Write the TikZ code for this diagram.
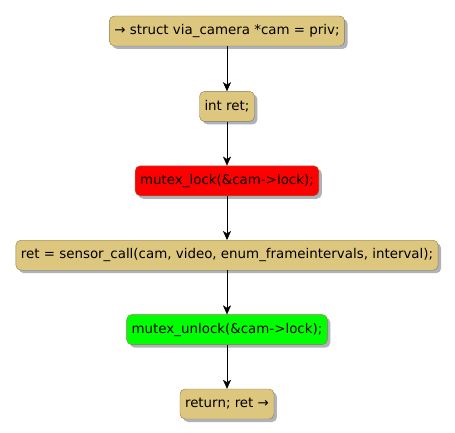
\documentclass[tikz,border=0pt]{standalone}
\usepackage{fontspec}
\setmainfont{DejaVu Sans}
\usepackage{tikz}
\usetikzlibrary{arrows.meta,positioning,shadows}
\definecolor{Gold}{HTML}{DDC67D}
\definecolor{Rim}{HTML}{8A7A48}
\definecolor{Shade}{HTML}{9AA0AA}
\tikzset{
 act/.style={draw=Rim,fill=Gold,rounded corners=5pt,font=\fontsize{13.4}{15}\selectfont,
   minimum height=30pt,inner xsep=5pt,inner ysep=3pt,
   drop shadow={shadow xshift=3pt,shadow yshift=-3pt,fill=Shade,opacity=0.8}},
 lockbox/.style={act,fill=red},
 unlockbox/.style={act,fill=green},
 arr/.style={-{Stealth[length=9pt,width=8pt,inset=2.5pt]},draw=black}
}
\begin{document}
\begin{tikzpicture}[node distance=44pt]
\useasboundingbox (0,0) rectangle (455pt,-433pt);
\node[act] (start) at (227pt,-31pt) {→ struct via\_camera *cam = priv;};
\node[act,below=45pt of start] (decl) {int ret;};
\node[lockbox,below=of decl] (lock) {mutex\_lock(\&cam->lock);};
\node[act,below=of lock] (call) {ret = sensor\_call(cam, video, enum\_frameintervals, interval);};
\node[unlockbox,below=of call] (unlock) {mutex\_unlock(\&cam->lock);};
\node[act,below=of unlock] (ret) {return; ret →};
\draw[arr] (start)--(decl);\draw[arr] (decl)--(lock);\draw[arr] (lock)--(call);
\draw[arr] (call)--(unlock);\draw[arr] (unlock)--(ret);
\end{tikzpicture}
\end{document}
